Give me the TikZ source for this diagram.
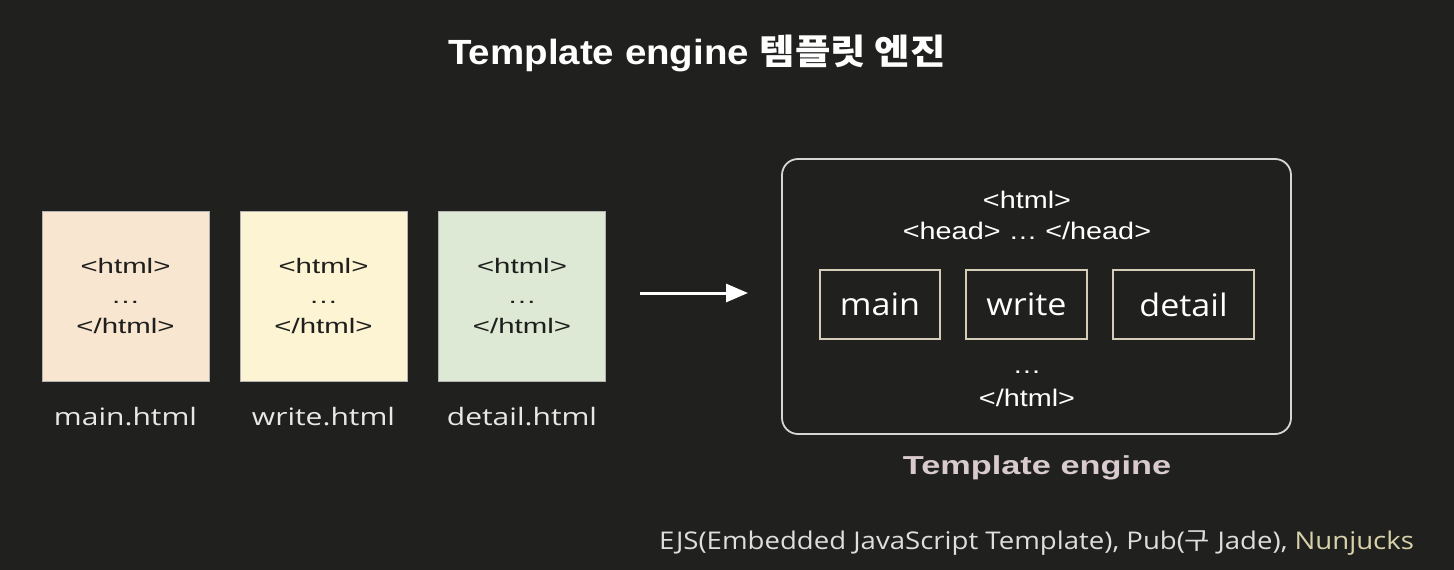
\documentclass[tikz,border=0pt]{standalone}
\usepackage{fontspec}
\setmainfont{Liberation Sans}
\newfontfamily\osf{Open Sans}
\newfontfamily\krf{Noto Sans CJK KR}
\usetikzlibrary{arrows.meta}
\newcommand{\hsc}[2]{\scalebox{#1}[1]{#2}}
\definecolor{bg}{RGB}{32,32,30}
\definecolor{peach}{RGB}{249,230,208}
\definecolor{lemon}{RGB}{253,244,212}
\definecolor{sage}{RGB}{221,233,212}
\definecolor{filetext}{RGB}{30,30,28}
\definecolor{lbl}{RGB}{232,232,230}
\definecolor{beige}{RGB}{214,205,184}
\definecolor{frame}{RGB}{214,214,212}
\definecolor{pinkgray}{RGB}{216,202,206}
\definecolor{nun}{RGB}{216,210,170}
\definecolor{foottext}{RGB}{222,222,220}
\tikzset{
  filebox/.style={draw=gray!60, line width=0.8, minimum width=167, minimum height=170, inner sep=0},
  filetxt/.style={text=filetext, align=center, font=\fontsize{21}{30}\selectfont, inner sep=0},
  filelbl/.style={text=lbl, font=\osf\fontsize{24}{28}\selectfont, inner sep=0},
  enginebox/.style={draw=frame, line width=1.8, rounded corners=16, minimum width=509, minimum height=275, inner sep=0},
  partbox/.style={draw=beige, line width=1.8, minimum height=69, inner sep=0, text=white, font=\osf\fontsize{31}{36}\selectfont},
  engtxt/.style={text=white, font=\fontsize{24}{28}\selectfont, inner sep=0},
}
\begin{document}
\begin{tikzpicture}[x=1pt,y=-1pt]
\fill[bg] (0,0) rectangle (1454,570);
\useasboundingbox (0,0) rectangle (1454,570);

\node[text=white, inner sep=0, font=\fontsize{35}{40}\selectfont\bfseries] (title) at (697,53)
  {\hsc{1.1}{Template engine {\krf\bfseries 템플릿 엔진}}};

\node[filebox, fill=peach] (f1) at (125.5,296) {};
\node[filebox, fill=lemon] (f2) at (323.5,296) {};
\node[filebox, fill=sage] (f3) at (522,296) {};
\node[filetxt] (t1) at (f1.center) {\hsc{1.4}{<html>}\\\hsc{1.4}{…}\\\hsc{1.4}{</html>}};
\node[filetxt] (t2) at (f2.center) {\hsc{1.4}{<html>}\\\hsc{1.4}{…}\\\hsc{1.4}{</html>}};
\node[filetxt] (t3) at (f3.center) {\hsc{1.4}{<html>}\\\hsc{1.4}{…}\\\hsc{1.4}{</html>}};
\node[filelbl] (l1) at (125.5,417) {\hsc{1.25}{main.html}};
\node[filelbl] (l2) at (323.5,417) {\hsc{1.25}{write.html}};
\node[filelbl] (l3) at (522,417) {\hsc{1.25}{detail.html}};

\coordinate (a1) at (640,293);
\coordinate (a2) at (748,293);
\draw[white, line width=3, -{Triangle[length=22,width=18]}] (a1) -- (a2);

\node[enginebox] (eng) at (1036.5,296.5) {};
\node[engtxt] (h1) at (1027,200) {\hsc{1.2}{<html>}};
\node[engtxt] (h2) at (1027,231) {\hsc{1.2}{<head> … </head>}};
\node[partbox, minimum width=120] (pm) at (880,304.5) {\hsc{1.1}{main}};
\node[partbox, minimum width=121] (pw) at (1026.5,304.5) {\hsc{1.1}{write}};
\node[partbox, minimum width=141] (pd) at (1183.5,304.5) {\hsc{1.1}{detail}};
\node[engtxt] (h3) at (1027,372) {\hsc{1.2}{…}};
\node[engtxt] (h4) at (1027,398) {\hsc{1.2}{</html>}};

\node[text=pinkgray, inner sep=0, font=\fontsize{26}{30}\selectfont\bfseries] (cap) at (1037,468) {\hsc{1.32}{Template engine}};

\node[text=foottext, inner sep=0, font=\osf\fontsize{24.4}{28}\selectfont] (foot) at (1036.5,543)
  {\hsc{1.13}{EJS(Embedded JavaScript Template), Pub({\krf 구} Jade), \textcolor{nun}{Nunjucks}}};
\end{tikzpicture}
\end{document}
